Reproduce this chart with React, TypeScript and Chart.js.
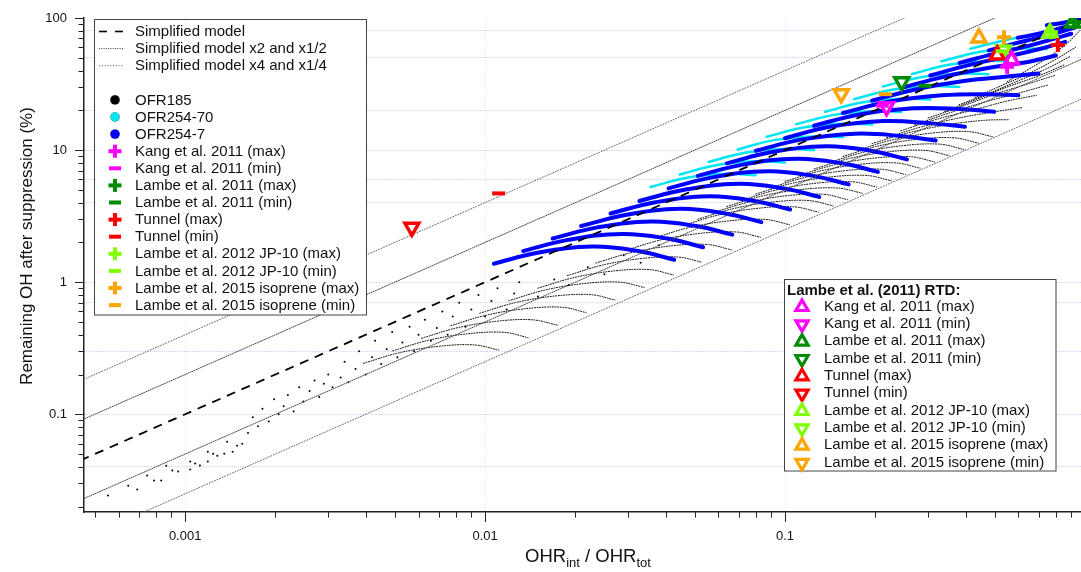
import React, { useEffect, useRef } from 'react';
import { Chart, registerables } from 'chart.js';

Chart.register(...registerables);

const FONT = "'Liberation Sans', Arial, Helvetica, sans-serif";

// ---------- axes ----------
const X_MIN = 0.00046;
const X_MAX = 0.97;
const Y_MIN = 0.0182;
const Y_MAX = 100;
const X_TICK_LABELS = [0.001, 0.01, 0.1];
const Y_TICK_LABELS = [0.1, 1, 10, 100];
const X_GRID_VALUES = [0.001, 0.01, 0.1];
const Y_GRID_VALUES = [80, 50, 20, 10, 6, 4, 1, 0.7, 0.3, 0.1, 0.04];

// ---------- colours ----------
const BLUE = '#0000ff';
const CYAN = '#00e6f2';
const MAGENTA = '#ff00ff';
const DKGREEN = '#008c00';
const RED = '#ff0000';
const LTGREEN = '#80ff00';
const ORANGE = '#ffa500';

// ---------- simplified model lines [x, y%] ----------
const MODEL_X1 = [[0.0004, 0.04], [1, 100]];
const MODEL_X2 = [[0.0004, 0.08], [0.5, 100]];
const MODEL_HALF = [[0.0004, 0.02], [1, 50]];
const MODEL_X4 = [[0.0004, 0.16], [0.25, 100]];
const MODEL_QUARTER = [[0.0004, 0.01], [1, 25]];

// ---------- OFR254-7 (blue) curves ----------
const OFR254_7 = [
  [[0.0107, 1.38], [0.0151, 1.68], [0.0229, 1.86], [0.0324, 1.72], [0.0427, 1.48]],
  [[0.0134, 1.72], [0.0189, 2.09], [0.0286, 2.32], [0.0405, 2.14], [0.0533, 1.84]],
  [[0.0168, 2.14], [0.0237, 2.6], [0.0358, 2.88], [0.0506, 2.66], [0.0667, 2.29]],
  [[0.0209, 2.66], [0.0296, 3.24], [0.0448, 3.59], [0.0632, 3.31], [0.0834, 2.85]],
  [[0.0262, 3.31], [0.037, 4.03], [0.056, 4.47], [0.0791, 4.12], [0.104, 3.55]],
  [[0.0327, 4.12], [0.0462, 5.01], [0.07, 5.56], [0.0989, 5.13], [0.13, 4.42]],
  [[0.0409, 5.13], [0.0578, 6.24], [0.0875, 6.92], [0.124, 6.38], [0.163, 5.5]],
  [[0.0512, 6.38], [0.0723, 7.76], [0.109, 8.61], [0.155, 7.94], [0.204, 6.84]],
  [[0.064, 7.94], [0.0904, 9.66], [0.137, 10.7], [0.193, 9.89], [0.255, 8.51]],
  [[0.08, 9.89], [0.113, 12.0], [0.171, 13.3], [0.242, 12.8], [0.318, 11.8]],
  [[0.1, 12.3], [0.141, 15.0], [0.214, 16.6], [0.302, 16.0], [0.398, 15.0]],
  [[0.125, 15.3], [0.177, 18.6], [0.267, 20.7], [0.378, 20.5], [0.498, 19.5]],
  [[0.156, 19.1], [0.221, 23.2], [0.334, 26.0], [0.472, 26.5], [0.6, 26.0]],
  [[0.195, 23.7], [0.276, 29.0], [0.4, 33.5], [0.55, 36.0], [0.7, 38.0]],
  [[0.244, 29.5], [0.34, 36.0], [0.48, 42.0], [0.63, 46.0], [0.8, 52.0]],
  [[0.305, 36.7], [0.41, 44.0], [0.55, 51.0], [0.7, 58.0], [0.86, 66.0]],
  [[0.382, 45.7], [0.49, 53.0], [0.62, 60.0], [0.76, 68.0], [0.9, 76.0]],
  [[0.478, 56.9], [0.58, 64.0], [0.7, 71.0], [0.82, 78.0], [0.93, 85.0]],
  [[0.597, 70.8], [0.7, 76.0], [0.8, 82.0], [0.88, 87.0], [0.95, 92.0]],
  [[0.746, 88.1], [0.82, 91.0], [0.89, 94.0], [0.94, 96.5], [0.98, 99.0]],
];

// ---------- OFR254-70 (cyan) curves ----------
const OFR254_70 = [
  [[0.0356, 5.25], [0.047, 6.17], [0.0634, 6.61], [0.0798, 6.46]],
  [[0.0445, 6.53], [0.0588, 7.68], [0.0793, 8.23], [0.0998, 8.04]],
  [[0.0556, 8.13], [0.0735, 9.56], [0.0991, 10.2], [0.125, 10.0]],
  [[0.0695, 10.1], [0.0919, 11.9], [0.124, 12.7], [0.156, 12.5]],
  [[0.0869, 12.6], [0.115, 14.8], [0.155, 15.8], [0.195, 15.6]],
  [[0.109, 15.7], [0.144, 18.4], [0.194, 19.7], [0.244, 19.4]],
  [[0.136, 19.5], [0.18, 22.9], [0.242, 24.5], [0.305, 24.2]],
  [[0.17, 24.3], [0.225, 28.5], [0.303, 30.5], [0.381, 30.1]],
  [[0.212, 30.3], [0.281, 35.5], [0.379, 38.0], [0.476, 37.5]],
  [[0.265, 37.7], [0.351, 44.2], [0.473, 47.3], [0.595, 46.7]],
  [[0.332, 47.0], [0.439, 55.0], [0.592, 58.9], [0.744, 58.1]],
  [[0.415, 58.5], [0.549, 68.5], [0.7, 76.0], [0.85, 82.0]],
];

// ---------- OFR185 (black) curves ----------
const OFR185_CURVES = [
  [[0.00393, 0.243], [0.00517, 0.292], [0.007, 0.327], [0.00922, 0.335], [0.0111, 0.306]],
  [[0.00492, 0.302], [0.00647, 0.363], [0.00876, 0.407], [0.0116, 0.417], [0.0139, 0.38]],
  [[0.00614, 0.376], [0.00809, 0.452], [0.011, 0.507], [0.0144, 0.519], [0.0174, 0.473]],
  [[0.00768, 0.468], [0.0101, 0.563], [0.0137, 0.631], [0.0181, 0.646], [0.0217, 0.589]],
  [[0.0096, 0.582], [0.0126, 0.7], [0.0171, 0.786], [0.0226, 0.804], [0.0271, 0.733]],
  [[0.012, 0.724], [0.0158, 0.871], [0.0214, 0.977], [0.0282, 1.0], [0.0339, 0.912]],
  [[0.015, 0.901], [0.0198, 1.084], [0.0268, 1.216], [0.0353, 1.245], [0.0424, 1.135]],
  [[0.0188, 1.121], [0.0247, 1.349], [0.0334, 1.513], [0.0441, 1.549], [0.053, 1.413]],
  [[0.0234, 1.396], [0.0309, 1.679], [0.0418, 1.884], [0.0551, 1.928], [0.0662, 1.758]],
  [[0.0293, 1.737], [0.0386, 2.09], [0.0522, 2.344], [0.0688, 2.399], [0.0828, 2.188]],
  [[0.0366, 2.161], [0.0482, 2.6], [0.0653, 2.916], [0.0861, 2.985], [0.1035, 2.722]],
  [[0.0458, 2.69], [0.0603, 3.236], [0.0816, 3.63], [0.1076, 3.715], [0.1293, 3.388]],
  [[0.0512, 3.0], [0.0674, 3.61], [0.0912, 4.05], [0.1203, 4.15], [0.1446, 3.78]],
  [[0.0572, 3.348], [0.0754, 4.028], [0.102, 4.518], [0.1345, 4.624], [0.1616, 4.217]],
  [[0.0639, 3.74], [0.0843, 4.5], [0.114, 5.04], [0.15, 5.16], [0.181, 4.71]],
  [[0.0715, 4.166], [0.0942, 5.012], [0.1275, 5.622], [0.168, 5.754], [0.202, 5.248]],
  [[0.0799, 4.65], [0.105, 5.59], [0.1425, 6.27], [0.188, 6.42], [0.226, 5.86]],
  [[0.0894, 5.185], [0.1177, 6.237], [0.1594, 6.996], [0.21, 7.161], [0.2526, 6.531]],
  [[0.0999, 5.79], [0.1316, 6.96], [0.178, 7.81], [0.235, 7.99], [0.282, 7.29]],
  [[0.1118, 6.453], [0.1471, 7.763], [0.1993, 8.708], [0.2624, 8.913], [0.3157, 8.129]],
  [[0.125, 7.2], [0.1645, 8.66], [0.2228, 9.72], [0.293, 9.95], [0.353, 9.07]],
  [[0.1397, 8.029], [0.1839, 9.659], [0.2491, 10.83], [0.328, 11.09], [0.3946, 10.11]],
  [[0.156, 8.96], [0.2056, 10.78], [0.2785, 12.09], [0.367, 12.38], [0.441, 11.28]],
  [[0.1746, 9.991], [0.2299, 12.02], [0.3113, 13.48], [0.41, 13.8], [0.4932, 12.59]],
  [[0.195, 11.2], [0.257, 13.5], [0.345, 15.5], [0.46, 16.8], [0.56, 17.0]],
  [[0.218, 12.4], [0.285, 15.0], [0.38, 17.5], [0.5, 19.5], [0.62, 21.0]],
  [[0.243, 14.0], [0.317, 17.0], [0.42, 20.0], [0.55, 23.5], [0.69, 26.0]],
  [[0.27, 15.5], [0.35, 19.0], [0.46, 23.0], [0.6, 27.0], [0.75, 31.0]],
  [[0.3, 17.5], [0.39, 21.5], [0.5, 26.5], [0.64, 31.5], [0.8, 37.0]],
  [[0.34, 19.5], [0.43, 24.0], [0.55, 30.0], [0.69, 36.0], [0.85, 44.0]],
  [[0.38, 22.0], [0.48, 27.0], [0.6, 33.5], [0.74, 41.0], [0.89, 51.0]],
  [[0.43, 25.0], [0.53, 31.0], [0.65, 38.0], [0.79, 48.0], [0.93, 60.0]],
  [[0.55, 33.0], [0.65, 41.0], [0.76, 51.0], [0.87, 64.0], [0.97, 82.0]],
];

// ---------- OFR185 (black) scattered points ----------
const OFR185_POINTS = [
  [0.000553, 0.0243], [0.000646, 0.0288], [0.000692, 0.0269], [0.000747, 0.0344], [0.000788, 0.0315],
  [0.000832, 0.0315], [0.000865, 0.0408], [0.000906, 0.0375], [0.000948, 0.0368], [0.00104, 0.0438],
  [0.00104, 0.0381], [0.00108, 0.0423], [0.00112, 0.0409], [0.00119, 0.0521], [0.00119, 0.0438],
  [0.00124, 0.0503], [0.00128, 0.0486], [0.00135, 0.0503], [0.00138, 0.0619], [0.00144, 0.0521],
  [0.00149, 0.0578], [0.00155, 0.0598], [0.00162, 0.072], [0.00168, 0.095], [0.00175, 0.081],
  [0.00181, 0.11], [0.0019, 0.088], [0.00198, 0.13], [0.00205, 0.1], [0.00213, 0.115],
  [0.0022, 0.14], [0.0023, 0.105], [0.0024, 0.16], [0.00248, 0.125], [0.0026, 0.15],
  [0.0027, 0.18], [0.0028, 0.135], [0.0029, 0.17], [0.003, 0.2], [0.0031, 0.16],
  [0.0033, 0.19], [0.0034, 0.25], [0.0035, 0.175], [0.0037, 0.22], [0.0038, 0.3],
  [0.004, 0.2], [0.0042, 0.27], [0.0043, 0.36], [0.0045, 0.24], [0.0047, 0.31],
  [0.0049, 0.42], [0.0051, 0.27], [0.0053, 0.35], [0.0056, 0.46], [0.0058, 0.3],
  [0.006, 0.4], [0.0063, 0.52], [0.0066, 0.36], [0.0069, 0.45], [0.0072, 0.6],
  [0.0075, 0.4], [0.0078, 0.55], [0.0082, 0.7], [0.0086, 0.46], [0.009, 0.62],
  [0.0095, 0.8], [0.01, 0.55], [0.0105, 0.72], [0.011, 0.9], [0.0118, 0.62],
  [0.0125, 0.82], [0.013, 1.0], [0.015, 0.78], [0.017, 1.05], [0.019, 0.95],
  [0.022, 1.3], [0.025, 1.15], [0.029, 1.6], [0.033, 1.4], [0.038, 1.9],
];

// ---------- literature markers (plus = max, dash = min) ----------
const KANG_MAX = [[0.55, 42.7]];
const KANG_MIN = [[0.211, 21.7]];
const LAMBE11_MAX = [[0.92, 93.0]];
const LAMBE11_MIN = [[0.293, 30.7]];
const TUNNEL_MAX = [[0.812, 62.5]];
const TUNNEL_MIN = [[0.0111, 4.7]];
const JP10_MAX = [[0.77, 78.0]];
const JP10_MIN = [[0.53, 56.0]];
const ISO15_MAX = [[0.537, 71.5]];
const ISO15_MIN = [[0.216, 26.5]];

// ---------- Lambe et al. (2011) RTD markers (triangles) ----------
const RTD_KANG_MAX = [[0.569, 48.2]];
const RTD_KANG_MIN = [[0.218, 21.3]];
const RTD_LAMBE11_MAX = [[0.91, 91.7]];
const RTD_LAMBE11_MIN = [[0.245, 32.9]];
const RTD_TUNNEL_MAX = [[0.51, 52.5]];
const RTD_TUNNEL_MIN = [[0.0057, 2.6]];
const RTD_JP10_MAX = [[0.764, 77.1]];
const RTD_JP10_MIN = [[0.535, 57.3]];
const RTD_ISO15_MAX = [[0.443, 70.7]];
const RTD_ISO15_MIN = [[0.154, 26.7]];

const LEGEND_LEFT = [
  { label: 'Simplified model', kind: 'dash', color: '#000' },
  { label: 'Simplified model x2 and x1/2', kind: 'dot2', color: '#333' },
  { label: 'Simplified model x4 and x1/4', kind: 'dot4', color: '#555' },
  { label: '', kind: 'none', color: '' },
  { label: 'OFR185', kind: 'circle', color: '#000000' },
  { label: 'OFR254-70', kind: 'circle', color: CYAN },
  { label: 'OFR254-7', kind: 'circle', color: BLUE },
  { label: 'Kang et al. 2011 (max)', kind: 'plus', color: MAGENTA },
  { label: 'Kang et al. 2011 (min)', kind: 'minus', color: MAGENTA },
  { label: 'Lambe et al. 2011 (max)', kind: 'plus', color: DKGREEN },
  { label: 'Lambe et al. 2011 (min)', kind: 'minus', color: DKGREEN },
  { label: 'Tunnel (max)', kind: 'plus', color: RED },
  { label: 'Tunnel (min)', kind: 'minus', color: RED },
  { label: 'Lambe et al. 2012 JP-10 (max)', kind: 'plus', color: LTGREEN },
  { label: 'Lambe et al. 2012 JP-10 (min)', kind: 'minus', color: LTGREEN },
  { label: 'Lambe et al. 2015 isoprene (max)', kind: 'plus', color: ORANGE },
  { label: 'Lambe et al. 2015 isoprene (min)', kind: 'minus', color: ORANGE },
];

const LEGEND_RTD_TITLE = 'Lambe et al. (2011) RTD:';
const LEGEND_RTD = [
  { label: 'Kang et al. 2011 (max)', kind: 'up', color: MAGENTA },
  { label: 'Kang et al. 2011 (min)', kind: 'down', color: MAGENTA },
  { label: 'Lambe et al. 2011 (max)', kind: 'up', color: DKGREEN },
  { label: 'Lambe et al. 2011 (min)', kind: 'down', color: DKGREEN },
  { label: 'Tunnel (max)', kind: 'up', color: RED },
  { label: 'Tunnel (min)', kind: 'down', color: RED },
  { label: 'Lambe et al. 2012 JP-10 (max)', kind: 'up', color: LTGREEN },
  { label: 'Lambe et al. 2012 JP-10 (min)', kind: 'down', color: LTGREEN },
  { label: 'Lambe et al. 2015 isoprene (max)', kind: 'up', color: ORANGE },
  { label: 'Lambe et al. 2015 isoprene (min)', kind: 'down', color: ORANGE },
];

// ---------- helpers ----------
const toXY = (pts: number[][]) => pts.map(([x, y]) => ({ x, y }));
const near = (a: number, b: number) => Math.abs(Math.log10(a) - Math.log10(b)) < 1e-6;
const inList = (list: number[], v: number) => list.some((w) => near(w, v));

function logTicks(min: number, max: number) {
  const out: number[] = [];
  for (let e = -5; e <= 2; e++) {
    for (let m = 1; m <= 9; m++) {
      const v = parseFloat((m * Math.pow(10, e)).toPrecision(4));
      if (v >= min * 0.9999 && v <= max * 1.0001) out.push(v);
    }
  }
  return out;
}
const X_TICKS = logTicks(X_MIN, X_MAX);
const Y_TICKS = logTicks(Y_MIN, Y_MAX);

function curveDataset(pts: number[][], color: string, width: number, dash: number[], order: number, tension = 0.4) {
  return {
    data: toXY(pts),
    showLine: true,
    borderColor: color,
    backgroundColor: color,
    borderWidth: width,
    borderDash: dash,
    borderCapStyle: 'round',
    pointRadius: 0,
    pointHoverRadius: 0,
    tension,
    order,
  };
}

function markerDataset(pts: number[][], color: string, kind: string) {
  const base: any = { data: toXY(pts), showLine: false, order: 0 };
  if (kind === 'plus') {
    return { ...base, pointStyle: 'cross', pointRadius: 7, pointBorderWidth: 4, pointBorderColor: color, pointBackgroundColor: color };
  }
  if (kind === 'minus') {
    return { ...base, pointStyle: 'line', pointRadius: 6.5, pointBorderWidth: 4, pointBorderColor: color, pointBackgroundColor: color };
  }
  return {
    ...base,
    pointStyle: 'triangle',
    pointRadius: 8,
    pointBorderWidth: 3.5,
    pointBorderColor: color,
    pointBackgroundColor: '#ffffff',
    pointRotation: kind === 'down' ? 180 : 0,
  };
}

// ---------- legend symbol drawing ----------
function drawSymbol(ctx: CanvasRenderingContext2D, kind: string, color: string, cx: number, cy: number) {
  ctx.save();
  if (kind === 'dash' || kind === 'dot2' || kind === 'dot4') {
    ctx.strokeStyle = color;
    ctx.lineWidth = kind === 'dash' ? 1.6 : 1;
    ctx.setLineDash(kind === 'dash' ? [8, 8] : kind === 'dot2' ? [1, 1.3] : [1, 1.8]);
    ctx.beginPath();
    ctx.moveTo(cx - 16, cy);
    ctx.lineTo(cx + 9, cy);
    ctx.stroke();
  } else if (kind === 'circle') {
    ctx.fillStyle = color;
    ctx.strokeStyle = 'rgba(0,0,0,0.35)';
    ctx.lineWidth = 0.6;
    ctx.beginPath();
    ctx.arc(cx, cy, 4.7, 0, Math.PI * 2);
    ctx.fill();
    ctx.stroke();
  } else if (kind === 'plus') {
    ctx.fillStyle = color;
    ctx.fillRect(cx - 6.5, cy - 2, 13, 4);
    ctx.fillRect(cx - 2, cy - 6.5, 4, 13);
  } else if (kind === 'minus') {
    ctx.fillStyle = color;
    ctx.fillRect(cx - 6, cy - 2, 12, 4);
  } else if (kind === 'up' || kind === 'down') {
    const r = 7;
    const s = kind === 'up' ? 1 : -1;
    ctx.strokeStyle = color;
    ctx.fillStyle = '#ffffff';
    ctx.lineWidth = 3.2;
    ctx.lineJoin = 'miter';
    ctx.beginPath();
    ctx.moveTo(cx, cy - s * r);
    ctx.lineTo(cx + r * 0.866, cy + s * r * 0.5);
    ctx.lineTo(cx - r * 0.866, cy + s * r * 0.5);
    ctx.closePath();
    ctx.fill();
    ctx.stroke();
  }
  ctx.restore();
}

const decorPlugin = {
  id: 'decor',
  afterDraw(chart: any) {
    const ctx: CanvasRenderingContext2D = chart.ctx;
    const xs = chart.scales.x;
    const ys = chart.scales.y;
    const area = chart.chartArea;

    // tick marks (major long, minor short)
    ctx.save();
    ctx.strokeStyle = '#222';
    ctx.lineWidth = 1;
    for (const v of Y_TICKS) {
      const py = Math.round(ys.getPixelForValue(v)) + 0.5;
      const len = inList(Y_TICK_LABELS, v) ? 9 : 5.5;
      ctx.beginPath();
      ctx.moveTo(area.left, py);
      ctx.lineTo(area.left - len, py);
      ctx.stroke();
    }
    for (const v of X_TICKS) {
      const px = Math.round(xs.getPixelForValue(v)) + 0.5;
      const len = inList(X_TICK_LABELS, v) ? 10 : 5.5;
      ctx.beginPath();
      ctx.moveTo(px, area.bottom);
      ctx.lineTo(px, area.bottom + len);
      ctx.stroke();
    }
    ctx.restore();

    // axis titles
    ctx.save();
    ctx.fillStyle = '#111';
    ctx.textBaseline = 'alphabetic';
    const big = `18.5px ${FONT}`;
    const small = `13px ${FONT}`;
    const parts = [
      { t: 'OHR', f: big, dy: 0 },
      { t: 'int', f: small, dy: 5 },
      { t: ' / OHR', f: big, dy: 0 },
      { t: 'tot', f: small, dy: 5 },
    ];
    let total = 0;
    for (const p of parts) {
      ctx.font = p.f;
      total += ctx.measureText(p.t).width;
    }
    let tx = 588 - total / 2;
    for (const p of parts) {
      ctx.font = p.f;
      ctx.fillText(p.t, tx, 562 + p.dy);
      tx += ctx.measureText(p.t).width;
    }
    ctx.translate(27, 246);
    ctx.rotate(-Math.PI / 2);
    ctx.font = `17px ${FONT}`;
    ctx.textAlign = 'center';
    ctx.textBaseline = 'middle';
    ctx.fillText('Remaining OH after suppression (%)', 0, 0);
    ctx.restore();

    // left legend
    ctx.save();
    ctx.fillStyle = '#ffffff';
    ctx.fillRect(94.5, 19.5, 272, 295.5);
    ctx.strokeStyle = '#444';
    ctx.lineWidth = 1;
    ctx.strokeRect(94.5, 19.5, 272, 295.5);
    ctx.font = `15px ${FONT}`;
    ctx.textBaseline = 'middle';
    LEGEND_LEFT.forEach((item, i) => {
      const cy = 31.5 + i * 17.1;
      if (item.kind === 'none') return;
      drawSymbol(ctx, item.kind, item.color, 115, cy);
      ctx.fillStyle = '#111';
      ctx.fillText(item.label, 135, cy + 0.5);
    });
    ctx.restore();

    // RTD legend
    ctx.save();
    ctx.fillStyle = '#ffffff';
    ctx.fillRect(784.5, 279.5, 271.5, 191.5);
    ctx.strokeStyle = '#444';
    ctx.lineWidth = 1;
    ctx.strokeRect(784.5, 279.5, 271.5, 191.5);
    ctx.textBaseline = 'middle';
    ctx.fillStyle = '#111';
    ctx.font = `bold 15px ${FONT}`;
    ctx.fillText(LEGEND_RTD_TITLE, 787, 291);
    ctx.font = `15px ${FONT}`;
    LEGEND_RTD.forEach((item, i) => {
      const cy = 306 + i * 17.33;
      drawSymbol(ctx, item.kind, item.color, 802, cy + 1);
      ctx.fillStyle = '#111';
      ctx.fillText(item.label, 824, cy + 0.5);
    });
    ctx.restore();
  },
};

export default function App() {
  const canvasRef = useRef<HTMLCanvasElement>(null);

  useEffect(() => {
    const canvas = canvasRef.current;
    if (!canvas) return;

    const datasets: any[] = [];
    OFR185_CURVES.forEach((c) => datasets.push(curveDataset(c, '#000000', 1, [1, 1.6], 5, 0.35)));
    datasets.push({
      data: toXY(OFR185_POINTS),
      showLine: false,
      pointRadius: 1,
      pointBorderWidth: 0,
      pointBackgroundColor: '#000',
      order: 5,
    });
    OFR254_70.forEach((c) => datasets.push(curveDataset(c, CYAN, 2.5, [], 4)));
    OFR254_7.forEach((c) => datasets.push(curveDataset(c, BLUE, 4, [], 3)));
    datasets.push(curveDataset(MODEL_X4, '#666', 1, [1, 1.8], 2, 0));
    datasets.push(curveDataset(MODEL_QUARTER, '#666', 1, [1, 1.8], 2, 0));
    datasets.push(curveDataset(MODEL_X2, '#444', 1, [1, 1.3], 2, 0));
    datasets.push(curveDataset(MODEL_HALF, '#444', 1, [1, 1.3], 2, 0));
    datasets.push({ ...curveDataset(MODEL_X1, '#000', 1.8, [9, 7], 1, 0), borderCapStyle: 'butt' });

    datasets.push(markerDataset(KANG_MAX, MAGENTA, 'plus'));
    datasets.push(markerDataset(KANG_MIN, MAGENTA, 'minus'));
    datasets.push(markerDataset(LAMBE11_MAX, DKGREEN, 'plus'));
    datasets.push(markerDataset(LAMBE11_MIN, DKGREEN, 'minus'));
    datasets.push(markerDataset(TUNNEL_MAX, RED, 'plus'));
    datasets.push(markerDataset(TUNNEL_MIN, RED, 'minus'));
    datasets.push(markerDataset(JP10_MAX, LTGREEN, 'plus'));
    datasets.push(markerDataset(JP10_MIN, LTGREEN, 'minus'));
    datasets.push(markerDataset(ISO15_MAX, ORANGE, 'plus'));
    datasets.push(markerDataset(ISO15_MIN, ORANGE, 'minus'));

    datasets.push(markerDataset(RTD_KANG_MAX, MAGENTA, 'up'));
    datasets.push(markerDataset(RTD_KANG_MIN, MAGENTA, 'down'));
    datasets.push(markerDataset(RTD_LAMBE11_MAX, DKGREEN, 'up'));
    datasets.push(markerDataset(RTD_LAMBE11_MIN, DKGREEN, 'down'));
    datasets.push(markerDataset(RTD_TUNNEL_MAX, RED, 'up'));
    datasets.push(markerDataset(RTD_TUNNEL_MIN, RED, 'down'));
    datasets.push(markerDataset(RTD_JP10_MAX, LTGREEN, 'up'));
    datasets.push(markerDataset(RTD_JP10_MIN, LTGREEN, 'down'));
    datasets.push(markerDataset(RTD_ISO15_MAX, ORANGE, 'up'));
    datasets.push(markerDataset(RTD_ISO15_MIN, ORANGE, 'down'));

    const chart = new Chart(canvas, {
      type: 'scatter',
      data: { datasets },
      plugins: [decorPlugin],
      options: {
        responsive: false,
        animation: false,
        devicePixelRatio: 1,
        events: [],
        layout: { autoPadding: false, padding: { left: 0, right: 0, top: 18, bottom: 0 } },
        plugins: { legend: { display: false }, tooltip: { enabled: false }, title: { display: false } },
        scales: {
          x: {
            type: 'logarithmic',
            min: X_MIN,
            max: X_MAX,
            afterBuildTicks: (scale: any) => {
              scale.ticks = X_TICKS.map((v) => ({ value: v }));
            },
            afterFit: (scale: any) => {
              scale.height = 60;
            },
            ticks: {
              autoSkip: false,
              maxRotation: 0,
              padding: 0,
              color: '#111',
              font: { family: FONT, size: 13 },
              callback: (v: any) => (inList(X_TICK_LABELS, Number(v)) ? String(Number(v)) : ''),
            },
            grid: {
              drawTicks: true,
              tickLength: 17,
              tickColor: 'rgba(0,0,0,0)',
              lineWidth: 1,
              color: (c: any) => (c.tick && inList(X_GRID_VALUES, c.tick.value) ? 'rgba(170,170,225,0.35)' : 'rgba(0,0,0,0)'),
            },
            border: { display: true, color: '#222', width: 1.5, dash: [1, 2] },
          },
          y: {
            type: 'logarithmic',
            min: Y_MIN,
            max: Y_MAX,
            afterBuildTicks: (scale: any) => {
              scale.ticks = Y_TICKS.map((v) => ({ value: v }));
            },
            afterFit: (scale: any) => {
              scale.width = 84;
            },
            ticks: {
              autoSkip: false,
              padding: 0,
              color: '#111',
              font: { family: FONT, size: 13 },
              callback: (v: any) => (inList(Y_TICK_LABELS, Number(v)) ? String(Number(v)) : ''),
            },
            grid: {
              drawTicks: true,
              tickLength: 17,
              tickColor: 'rgba(0,0,0,0)',
              lineWidth: 1,
              color: (c: any) => (c.tick && inList(Y_GRID_VALUES, c.tick.value) ? 'rgba(120,120,255,0.55)' : 'rgba(0,0,0,0)'),
            },
            border: { display: true, color: '#222', width: 1.5, dash: [1, 2] },
          },
        },
      } as any,
    });
    return () => chart.destroy();
  }, []);

  return (
    <div style={{ position: 'absolute', left: 0, top: 0, width: 1081, height: 572, background: '#ffffff' }}>
      <canvas ref={canvasRef} width={1081} height={572} style={{ display: 'block', width: 1081, height: 572 }} />
    </div>
  );
}
